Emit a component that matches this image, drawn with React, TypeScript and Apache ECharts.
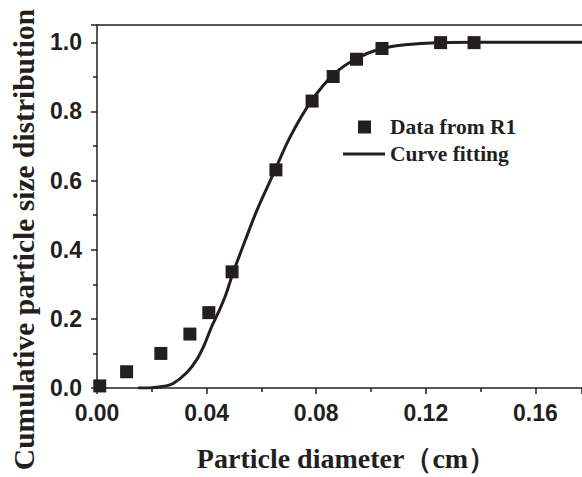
import React, { useEffect, useRef } from "react";
import * as echarts from "echarts";

const dataX = [0.001, 0.0108, 0.0233, 0.0339, 0.0408, 0.0493, 0.0653, 0.0785, 0.0862, 0.0947, 0.104, 0.1254, 0.1376];
const dataY = [0.006, 0.047, 0.1, 0.156, 0.218, 0.336, 0.631, 0.83, 0.901, 0.951, 0.982, 0.999, 0.999];

const fitX = [0.015, 0.02, 0.0245, 0.0278, 0.0327, 0.0364, 0.0394, 0.0418, 0.0442, 0.047, 0.0497, 0.054, 0.0582, 0.0619, 0.0649, 0.0704, 0.0783, 0.0862, 0.0947, 0.1038, 0.1124, 0.1239, 0.14, 0.16, 0.177];
const fitY = [0, 0.001, 0.005, 0.013, 0.044, 0.082, 0.129, 0.177, 0.217, 0.27, 0.334, 0.425, 0.511, 0.577, 0.629, 0.725, 0.831, 0.906, 0.953, 0.982, 0.993, 0.999, 1, 1, 1];

const xTitle = "Particle diameter（cm）";
const yTitle = "Cumulative particle size distribution";
const scatterName = "Data from R1";
const lineName = "Curve fitting";

const INK = "#231f20";
const SERIF = "'Liberation Serif', 'Times New Roman', serif";
const SANS = "'Liberation Sans', Arial, sans-serif";

export default function App() {
  const ref = useRef<HTMLDivElement>(null);
  useEffect(() => {
    if (!ref.current) return;
    const chart = echarts.init(ref.current, null, { renderer: "svg" });
    const axisLine = { show: true, lineStyle: { color: INK, width: 1.5 } };
    chart.setOption({
      animation: false,
      backgroundColor: "#ffffff",
      grid: { left: 97, right: 0, top: 25, bottom: 85, containLabel: false },
      legend: [
        {
          data: [scatterName],
          left: 358,
          top: 116,
          padding: 0,
          icon: "rect",
          itemWidth: 13,
          itemHeight: 13,
          textStyle: { fontFamily: SERIF, fontWeight: "bold", fontSize: 21.5, color: INK, padding: [0, 0, 0, 14] },
        },
        {
          data: [lineName],
          left: 343,
          top: 143,
          padding: 0,
          icon: "rect",
          itemWidth: 42,
          itemHeight: 3,
          itemStyle: { color: INK },
          textStyle: { fontFamily: SERIF, fontWeight: "bold", fontSize: 21.5, color: INK },
        },
      ],
      xAxis: [
        {
          type: "value",
          min: 0,
          max: 0.177,
          interval: 0.04,
          name: xTitle,
          nameLocation: "middle",
          nameGap: 56,
          nameTextStyle: { fontFamily: SERIF, fontWeight: "bold", fontSize: 28, color: INK, padding: [0, 0, 0, 14] },
          axisLine,
          axisTick: { show: true, length: 6, lineStyle: { color: INK, width: 1.5 } },
          minorTick: { show: true, splitNumber: 2, length: 4, lineStyle: { color: INK, width: 1.5 } },
          splitLine: { show: false },
          axisLabel: {
            showMaxLabel: false,
            margin: 13,
            fontFamily: SANS,
            fontWeight: "bold",
            fontSize: 23,
            color: INK,
            formatter: (v: number) => v.toFixed(2),
          },
        },
        {
          type: "value",
          position: "top",
          min: 0,
          max: 0.177,
          axisLine,
          axisTick: { show: false },
          axisLabel: { show: false },
          splitLine: { show: false },
        },
      ],
      yAxis: {
        type: "value",
        min: 0,
        max: 1.05,
        interval: 0.2,
        name: yTitle,
        nameLocation: "middle",
        nameGap: 58,
        nameTextStyle: { fontFamily: SERIF, fontWeight: "bold", fontSize: 29.5, color: INK, padding: [0, 66, 0, 0] },
        axisLine,
        axisTick: { show: true, length: 6, lineStyle: { color: INK, width: 1.5 } },
        minorTick: { show: true, splitNumber: 2, length: 4, lineStyle: { color: INK, width: 1.5 } },
        splitLine: { show: false },
        axisLabel: {
          showMaxLabel: false,
          margin: 15,
          fontFamily: SANS,
          fontWeight: "bold",
          fontSize: 23,
          color: INK,
          formatter: (v: number) => v.toFixed(1),
        },
      },
      series: [
        {
          name: lineName,
          type: "line",
          data: fitX.map((x, i) => [x, fitY[i]]),
          smooth: 0.35,
          symbol: "none",
          lineStyle: { color: INK, width: 3 },
          itemStyle: { color: INK },
          z: 2,
        },
        {
          name: scatterName,
          type: "scatter",
          data: dataX.map((x, i) => [x, dataY[i]]),
          symbol: "rect",
          symbolSize: 13,
          itemStyle: { color: INK, opacity: 1 },
          z: 3,
        },
      ],
    });
    return () => chart.dispose();
  }, []);
  return <div ref={ref} style={{ position: "fixed", left: 0, top: 0, width: 582, height: 477 }} />;
}
